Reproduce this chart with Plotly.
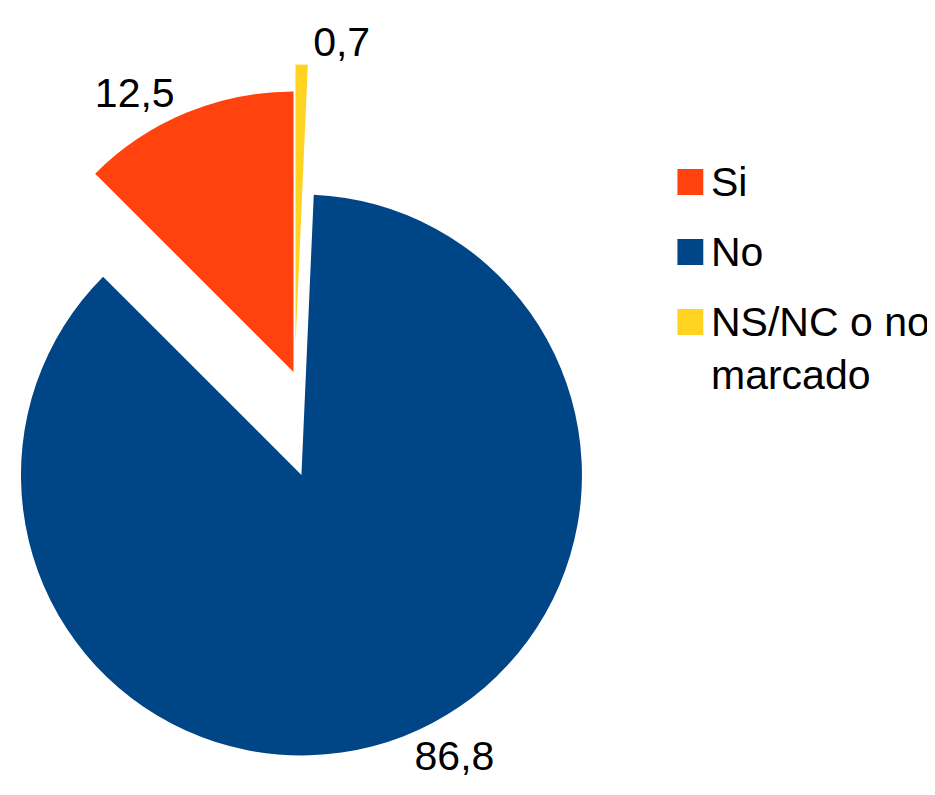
import plotly.graph_objects as go

# ---- data ----
labels = ["Si", "No", "NS/NC o no marcado"]
values = [12.5, 86.8, 0.7]
colors = ["#FF420E", "#004586", "#FFD320"]
legend_text = ["Si", "No", "NS/NC o no<br>marcado"]

# ---- layout geometry (figure pixels; page adds an 8px body margin) ----
W, H = 935, 795
R = 282
FONT = "Liberation Sans, Arial, sans-serif"
FS = 41
# centre of the pie each exploded wedge is drawn from
centers = [(282, 364), (290, 467), (284, 337)]

# slices are laid out clockwise from 12 o'clock, so feed them in reverse order
order = list(range(len(labels)))[::-1]

fig = go.Figure()
for k in range(len(labels)):
    cx, cy = centers[k]
    fig.add_trace(go.Pie(
        labels=[labels[i] for i in order],
        values=[values[i] for i in order],
        sort=False,
        direction="clockwise",
        rotation=0,
        marker=dict(
            colors=[colors[i] if i == k else "rgba(0,0,0,0)" for i in order],
            line=dict(width=0),
        ),
        texttemplate="%{value:.1f}",
        textposition=["outside" if i == k else "none" for i in order],
        outsidetextfont=dict(size=FS, color="black", family=FONT),
        domain=dict(x=[(cx - R) / W, (cx + R) / W],
                    y=[1 - (cy + R) / H, 1 - (cy - R) / H]),
        showlegend=False,
        hoverinfo="label+value",
        name=labels[k],
    ))

# ---- legend (squares + text) ----
leg_x0, sq, text_x = 668, 26, 700
leg_y = [174, 244, 314]
LS = 53
for k in range(len(labels)):
    yc = leg_y[k]
    fig.add_shape(type="rect", xref="paper", yref="paper",
                  x0=leg_x0 / W, x1=(leg_x0 + sq) / W,
                  y0=1 - (yc + sq / 2) / H, y1=1 - (yc - sq / 2) / H,
                  fillcolor=colors[k], line_width=0)
    nlines = legend_text[k].count("<br>") + 1
    fig.add_annotation(xref="paper", yref="paper",
                       x=text_x / W, y=1 - (yc + (nlines - 1) * LS / 2) / H,
                       xanchor="left", yanchor="middle", align="left",
                       text=legend_text[k], showarrow=False,
                       font=dict(size=FS, color="black", family=FONT))

fig.update_layout(
    width=W, height=H,
    margin=dict(l=0, r=0, t=0, b=0),
    paper_bgcolor="white",
    plot_bgcolor="white",
    separators=",.",
    font=dict(family=FONT, size=FS, color="black"),
    showlegend=False,
)

fig.write_html("out.html")
